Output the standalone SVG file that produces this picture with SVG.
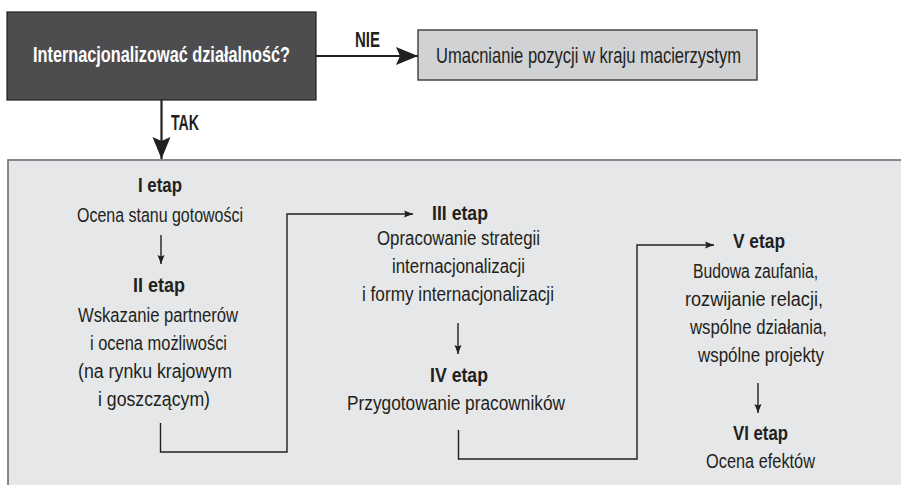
<svg xmlns="http://www.w3.org/2000/svg" width="901" height="485" viewBox="0 0 901 485">
<defs>
<style>
text{font-family:"Liberation Sans",Arial,sans-serif;fill:#231f20;text-anchor:middle;font-size:19.5px}
.b{font-weight:bold}
.w{fill:#ffffff;font-weight:bold;font-size:21.5px}
.t{font-size:21.5px}
.big{stroke:#231f20;stroke-width:2.2;fill:none}
.thin{stroke:#231f20;stroke-width:1.4;fill:none}
</style>
<marker id="bigHead" markerUnits="userSpaceOnUse" markerWidth="24" markerHeight="20" refX="22" refY="10" orient="auto" viewBox="0 0 24 20">
<path d="M0,1 L22,10 L0,19 L4,10 z" fill="#231f20"/>
</marker>
<marker id="smallHead" markerUnits="userSpaceOnUse" markerWidth="10" markerHeight="8" refX="9" refY="4" orient="auto" viewBox="0 0 10 8">
<path d="M0,0.5 L9,4 L0,7.5 L1.5,4 z" fill="#231f20"/>
</marker>
</defs>
<rect x="8" y="160" width="900" height="340" fill="#e6e7e8" stroke="#6d6e71" stroke-width="1.6"/>
<g id="decision">
<rect x="7" y="12" width="309" height="88" fill="#4d4d4f" stroke="#231f20" stroke-width="1.2"/>
<text class="w" x="161.5" y="62" textLength="257" lengthAdjust="spacingAndGlyphs">Internacjonalizować działalność?</text>
</g>
<g id="home">
<rect x="418" y="30" width="339" height="50" fill="#d1d2d4" stroke="#3a3a3c" stroke-width="1.4"/>
<text class="t" x="588.5" y="63" textLength="305" lengthAdjust="spacingAndGlyphs">Umacnianie pozycji w kraju macierzystym</text>
</g>
<g id="stage1">
<text class="b" x="160" y="192" textLength="44" lengthAdjust="spacingAndGlyphs">I etap</text>
<text x="160" y="222" textLength="166" lengthAdjust="spacingAndGlyphs">Ocena stanu gotowości</text>
</g>
<g id="stage2">
<text class="b" x="159" y="292" textLength="52" lengthAdjust="spacingAndGlyphs">II etap</text>
<text x="158" y="322" textLength="160" lengthAdjust="spacingAndGlyphs">Wskazanie partnerów</text>
<text x="158.5" y="350" textLength="137" lengthAdjust="spacingAndGlyphs">i ocena możliwości</text>
<text x="155" y="378" textLength="154" lengthAdjust="spacingAndGlyphs">(na rynku krajowym</text>
<text x="154" y="406" textLength="112" lengthAdjust="spacingAndGlyphs">i goszczącym)</text>
</g>
<g id="stage3">
<text class="b" x="460" y="220" textLength="56" lengthAdjust="spacingAndGlyphs">III etap</text>
<text x="458.5" y="245" textLength="163" lengthAdjust="spacingAndGlyphs">Opracowanie strategii</text>
<text x="458.5" y="273" textLength="133" lengthAdjust="spacingAndGlyphs">internacjonalizacji</text>
<text x="458" y="301" textLength="192" lengthAdjust="spacingAndGlyphs">i formy internacjonalizacji</text>
</g>
<g id="stage4">
<text class="b" x="459" y="382" textLength="58" lengthAdjust="spacingAndGlyphs">IV etap</text>
<text x="456" y="410" textLength="218" lengthAdjust="spacingAndGlyphs">Przygotowanie pracowników</text>
</g>
<g id="stage5">
<text class="b" x="759" y="248" textLength="52" lengthAdjust="spacingAndGlyphs">V etap</text>
<text x="755.5" y="278" textLength="125" lengthAdjust="spacingAndGlyphs">Budowa zaufania,</text>
<text x="754" y="306" textLength="138" lengthAdjust="spacingAndGlyphs">rozwijanie relacji,</text>
<text x="758.5" y="334" textLength="137" lengthAdjust="spacingAndGlyphs">wspólne działania,</text>
<text x="761" y="362" textLength="126" lengthAdjust="spacingAndGlyphs">wspólne projekty</text>
</g>
<g id="stage6">
<text class="b" x="760.5" y="440" textLength="55" lengthAdjust="spacingAndGlyphs">VI etap</text>
<text x="760.5" y="468" textLength="109" lengthAdjust="spacingAndGlyphs">Ocena efektów</text>
</g>
<g id="connectors">
<line class="big" x1="316" y1="56" x2="418" y2="56" marker-end="url(#bigHead)"/>
<text class="b t" x="367.5" y="47" textLength="25" lengthAdjust="spacingAndGlyphs">NIE</text>
<line class="big" x1="161.5" y1="100" x2="161.5" y2="159" marker-end="url(#bigHead)"/>
<text class="b t" x="185" y="130" textLength="28" lengthAdjust="spacingAndGlyphs">TAK</text>
<line class="thin" x1="161" y1="235" x2="161" y2="264" marker-end="url(#smallHead)"/>
<path class="thin" d="M160.5,423 V452 H287 V214 H413" marker-end="url(#smallHead)"/>
<line class="thin" x1="458" y1="323" x2="458" y2="354" marker-end="url(#smallHead)"/>
<path class="thin" d="M458.5,430 V459 H637 V245 H714" marker-end="url(#smallHead)"/>
<line class="thin" x1="758" y1="383" x2="758" y2="413" marker-end="url(#smallHead)"/>
</g>
</svg>
